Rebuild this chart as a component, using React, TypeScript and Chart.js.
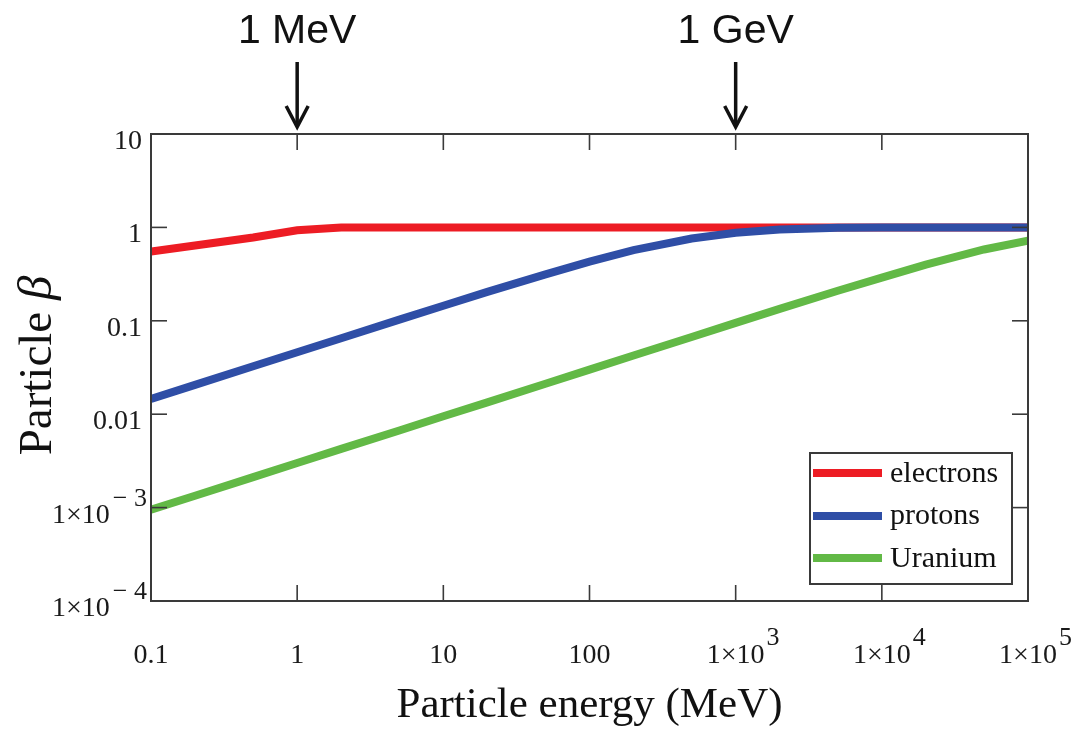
import React, { useEffect, useRef } from 'react';
import { Chart, registerables } from 'chart.js';

Chart.register(...registerables);

// Particle kinetic energy (MeV)
const energies = [0.1, 0.2, 0.5, 1, 2, 5, 10, 20, 50, 100, 200, 500, 1000, 2000, 5000, 10000, 20000, 50000, 100000];
// Particle beta
const electronBeta = [0.55, 0.64, 0.78, 0.93, 0.995, 1, 1, 1, 1, 1, 1, 1, 1, 1, 1, 1, 1, 1, 1];
const protonBeta = [0.0146, 0.0206, 0.0326, 0.046, 0.065, 0.103, 0.145, 0.204, 0.314, 0.43, 0.57, 0.76, 0.875, 0.948, 0.99, 0.996, 0.999, 1, 1];
const uraniumBeta = [0.00095, 0.00134, 0.00212, 0.003, 0.00425, 0.0067, 0.0095, 0.0134, 0.0212, 0.03, 0.0425, 0.067, 0.095, 0.134, 0.21, 0.29, 0.4, 0.58, 0.72];

const seriesLabels = ['electrons', 'protons', 'Uranium'];
const seriesColors = ['#ED1C24', '#2F4EA6', '#62B946'];

// tick labels: mantissa text and (optional) superscript exponent
const xTickValues = [0.1, 1, 10, 100, 1000, 10000, 100000];
const xTickLabels = ['0.1', '1', '10', '100', '1×10', '1×10', '1×10'];
const xTickExponents = ['', '', '', '', '3', '4', '5'];
const yTickValues = [0.0001, 0.001, 0.01, 0.1, 1, 10];
const yTickLabels = ['1×10', '1×10', '0.01', '0.1', '1', '10'];
const yTickExponents = ['− 4', '− 3', '', '', '', ''];

const yTitleMain = 'Particle ';
const yTitleSymbol = 'β';
const xTitle = 'Particle energy (MeV)';

const markerValues = [1, 1000];
const markerLabels = ['1 MeV', '1 GeV'];

const SERIF = '"Liberation Serif", "Times New Roman", serif';
const SANS = '"Liberation Sans", Arial, sans-serif';

const decorPlugin = {
  id: 'decor',
  afterDatasetsDraw(chart: any) {
    const { ctx, chartArea } = chart;
    const { left, right, top, bottom } = chartArea;
    const xs = chart.scales.x;
    const ys = chart.scales.y;
    ctx.save();
    ctx.strokeStyle = '#3a3a3a';
    ctx.lineWidth = 2;
    ctx.strokeRect(left, top, right - left, bottom - top);
    ctx.lineWidth = 1.6;
    const tl = 16;
    const seg = (a: number, b: number, c: number, d: number) => {
      ctx.beginPath();
      ctx.moveTo(a, b);
      ctx.lineTo(c, d);
      ctx.stroke();
    };
    xTickValues.forEach((v) => {
      const px = xs.getPixelForValue(v);
      seg(px, bottom, px, bottom - tl);
      seg(px, top, px, top + tl);
    });
    yTickValues.forEach((v) => {
      const py = ys.getPixelForValue(v);
      seg(left, py, left + tl, py);
      seg(right, py, right - tl, py);
    });

    // tick labels
    ctx.fillStyle = '#1a1a1a';
    ctx.textBaseline = 'alphabetic';
    const mainFont = `28px ${SERIF}`;
    const supFont = `26px ${SERIF}`;
    xTickValues.forEach((v, i) => {
      const px = xs.getPixelForValue(v);
      const base = bottom + 62;
      ctx.font = mainFont;
      ctx.textAlign = 'center';
      ctx.fillText(xTickLabels[i], px, base);
      if (xTickExponents[i]) {
        const w = ctx.measureText(xTickLabels[i]).width;
        ctx.font = supFont;
        ctx.textAlign = 'left';
        ctx.fillText(xTickExponents[i], px + w / 2 + 2, base - 18);
      }
    });
    yTickValues.forEach((v, i) => {
      const py = ys.getPixelForValue(v);
      const base = py + 15;
      if (yTickExponents[i]) {
        ctx.font = supFont;
        ctx.textAlign = 'right';
        const ex = left - 4;
        ctx.fillText(yTickExponents[i], ex, base - 17);
        const ew = ctx.measureText(yTickExponents[i]).width;
        ctx.font = mainFont;
        ctx.fillText(yTickLabels[i], ex - ew - 3, base);
      } else {
        ctx.font = mainFont;
        ctx.textAlign = 'right';
        ctx.fillText(yTickLabels[i], left - 9, base);
      }
    });

    // y axis title with italic beta
    ctx.save();
    ctx.fillStyle = '#111';
    ctx.translate(51, (top + bottom) / 2 - 2);
    ctx.rotate(-Math.PI / 2);
    ctx.font = `47px ${SERIF}`;
    const mw = ctx.measureText(yTitleMain).width;
    ctx.font = `italic 49px ${SERIF}`;
    const sw = ctx.measureText(yTitleSymbol).width;
    const start = -(mw + sw) / 2;
    ctx.textAlign = 'left';
    ctx.textBaseline = 'alphabetic';
    ctx.font = `47px ${SERIF}`;
    ctx.fillText(yTitleMain, start, 0);
    ctx.font = `italic 49px ${SERIF}`;
    ctx.fillText(yTitleSymbol, start + mw, 0);
    ctx.restore();

    ctx.restore();
  },
  afterDraw(chart: any) {
    const { ctx, chartArea } = chart;
    const { right, bottom } = chartArea;
    const xs = chart.scales.x;
    ctx.save();
    const bw = 202;
    const bh = 131;
    const bx = right - 16 - bw;
    const by = bottom - 17 - bh;
    ctx.fillStyle = '#ffffff';
    ctx.fillRect(bx, by, bw, bh);
    ctx.strokeStyle = '#3a3a3a';
    ctx.lineWidth = 2;
    ctx.strokeRect(bx, by, bw, bh);
    const lineYs = [20, 63, 105];
    const textYs = [29, 71, 114];
    chart.data.datasets.forEach((ds: any, i: number) => {
      ctx.strokeStyle = ds.borderColor;
      ctx.lineWidth = 8;
      ctx.beginPath();
      ctx.moveTo(bx + 3, by + lineYs[i]);
      ctx.lineTo(bx + 72, by + lineYs[i]);
      ctx.stroke();
      ctx.fillStyle = '#111';
      ctx.font = `30px ${SERIF}`;
      ctx.textAlign = 'left';
      ctx.textBaseline = 'alphabetic';
      ctx.fillText(ds.label, bx + 80, by + textYs[i]);
    });
    markerValues.forEach((v, i) => {
      const px = xs.getPixelForValue(v);
      ctx.fillStyle = '#111';
      ctx.font = `41px ${SANS}`;
      ctx.textAlign = 'center';
      ctx.textBaseline = 'alphabetic';
      ctx.fillText(markerLabels[i], px, 43);
      ctx.strokeStyle = '#111';
      ctx.lineWidth = 3.5;
      ctx.lineJoin = 'miter';
      ctx.beginPath();
      ctx.moveTo(px, 62);
      ctx.lineTo(px, 126);
      ctx.stroke();
      ctx.beginPath();
      ctx.moveTo(px - 11, 106);
      ctx.lineTo(px, 127);
      ctx.lineTo(px + 11, 106);
      ctx.stroke();
    });
    ctx.restore();
  },
};

export default function App() {
  const canvasRef = useRef<HTMLCanvasElement | null>(null);

  useEffect(() => {
    if (!canvasRef.current) return;
    const seriesValues = [electronBeta, protonBeta, uraniumBeta];
    const datasets = seriesValues.map((vals, i) => ({
      label: seriesLabels[i],
      data: energies.map((e, k) => ({ x: e, y: vals[k] })),
      borderColor: seriesColors[i],
      backgroundColor: seriesColors[i],
      borderWidth: 8,
      pointRadius: 0,
      pointHoverRadius: 0,
      tension: 0,
      fill: false,
      order: 3 - i,
    }));

    const chart = new Chart(canvasRef.current, {
      type: 'line',
      data: { datasets },
      options: {
        responsive: false,
        animation: false,
        layout: { padding: { left: 0, top: 134, right: 50, bottom: 0 } },
        plugins: {
          legend: { display: false },
          tooltip: { enabled: false },
        },
        scales: {
          x: {
            type: 'logarithmic',
            min: 0.1,
            max: 100000,
            grid: { display: false, drawTicks: false },
            border: { display: false },
            afterBuildTicks: (scale: any) => {
              scale.ticks = xTickValues.map((v) => ({ value: v }));
            },
            afterFit: (scale: any) => {
              scale.height = 144;
              scale.paddingLeft = 0;
              scale.paddingRight = 0;
            },
            ticks: { display: false, autoSkip: false, maxRotation: 0 },
            title: {
              display: true,
              text: xTitle,
              color: '#111',
              font: { family: SERIF, size: 43 },
              padding: { top: 0, bottom: 13 },
            },
          },
          y: {
            type: 'logarithmic',
            min: 0.0001,
            max: 10,
            grid: { display: false, drawTicks: false },
            border: { display: false },
            afterBuildTicks: (scale: any) => {
              scale.ticks = yTickValues.map((v) => ({ value: v }));
            },
            afterFit: (scale: any) => {
              scale.width = 151;
              scale.paddingTop = 0;
              scale.paddingBottom = 0;
            },
            ticks: { display: false, autoSkip: false },
            title: { display: false },
          },
        },
      },
      plugins: [decorPlugin],
    } as any);

    return () => chart.destroy();
  }, []);

  return (
    <canvas
      ref={canvasRef}
      width={1078}
      height={745}
      style={{ position: 'absolute', left: 0, top: 0, width: 1078, height: 745 }}
    />
  );
}
